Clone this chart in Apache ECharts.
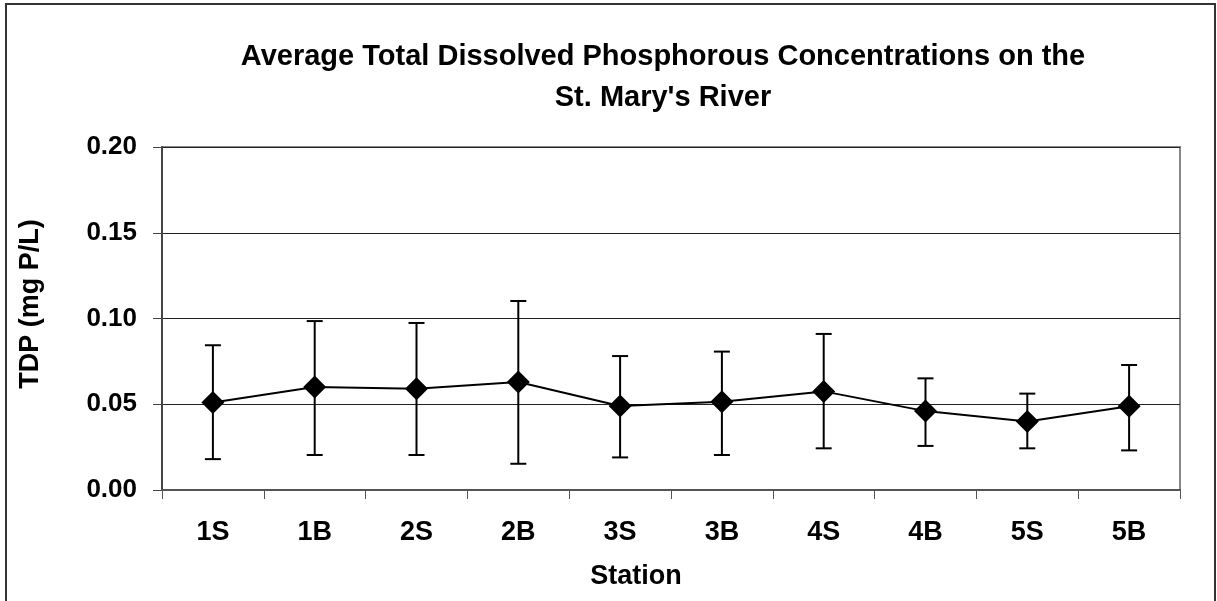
<!DOCTYPE html>
<html>
<head>
<meta charset="utf-8">
<title>TDP St. Mary's River</title>
<script src="https://cdn.jsdelivr.net/npm/echarts@6/dist/echarts.min.js"></script>
<style>
html, body { margin: 0; padding: 0; background: #fff; }
#main { width: 1217px; height: 601px; }
</style>
</head>
<body>
<div id="main"></div>
<script>
// stations along the river
var stations = ['1S', '1B', '2S', '2B', '3S', '3B', '4S', '4B', '5S', '5B'];
// mean TDP (mg P/L)
var tdpMean = [0.051, 0.060, 0.059, 0.063, 0.049, 0.0515, 0.0575, 0.046, 0.040, 0.0488];
// error bar ends
var tdpLow  = [0.018, 0.0204, 0.0204, 0.0153, 0.019, 0.0204, 0.0243, 0.0257, 0.0243, 0.0231];
var tdpHigh = [0.0844, 0.0985, 0.0974, 0.1102, 0.0781, 0.0807, 0.091, 0.0651, 0.0562, 0.0729];

var myChart = echarts.init(document.getElementById('main'));

var errData = stations.map(function (s, i) {
    return [i, tdpLow[i], tdpHigh[i]];
});

var font = 'Liberation Sans, Arial, sans-serif';

myChart.setOption({
    animation: false,
    title: {
        text: 'Average Total Dissolved Phosphorous Concentrations on the\nSt. Mary\'s River',
        left: 658,
        top: 31,
        textAlign: 'center',
        textStyle: {
            fontFamily: font,
            fontWeight: 'bold',
            fontSize: 29,
            lineHeight: 41,
            color: '#000'
        }
    },
    grid: {
        left: 162,
        right: 37,
        top: 147,
        bottom: 111,
        show: true,
        borderColor: '#888',
        borderWidth: 2
    },
    graphic: [
        {
            // outer chart border
            type: 'rect',
            shape: { x: 6, y: 4, width: 1209, height: 620 },
            style: { fill: null, stroke: '#333', lineWidth: 2 },
            silent: true,
            z: -1
        },
        {
            type: 'text',
            x: 31,
            y: 304,
            rotation: Math.PI / 2,
            style: {
                text: 'TDP (mg P/L)',
                fontFamily: font,
                fontWeight: 'bold',
                fontSize: 27,
                fill: '#000',
                textAlign: 'center',
                textVerticalAlign: 'middle'
            }
        },
        {
            type: 'text',
            x: 636,
            y: 577,
            style: {
                text: 'Station',
                fontFamily: font,
                fontWeight: 'bold',
                fontSize: 27,
                fill: '#000',
                textAlign: 'center',
                textVerticalAlign: 'middle'
            }
        }
    ],
    xAxis: {
        type: 'category',
        data: stations,
        boundaryGap: true,
        axisLine: { lineStyle: { color: '#555', width: 2 } },
        axisTick: { show: true, length: 9, lineStyle: { color: '#555', width: 1 } },
        axisLabel: {
            margin: 29,
            fontFamily: font,
            fontWeight: 'bold',
            fontSize: 27,
            color: '#000'
        },
        splitLine: { show: false }
    },
    yAxis: {
        type: 'value',
        min: 0,
        max: 0.2,
        interval: 0.05,
        axisLine: { show: true, lineStyle: { color: '#444', width: 2 } },
        axisTick: { show: true, length: 9, lineStyle: { color: '#444', width: 1 } },
        axisLabel: {
            margin: 25,
            fontFamily: font,
            fontWeight: 'bold',
            fontSize: 26,
            color: '#000',
            formatter: function (v) { return v.toFixed(2); }
        },
        splitLine: { lineStyle: { color: '#222', width: 1 } }
    },
    series: [
        {
            name: 'error',
            type: 'custom',
            data: errData,
            z: 1,
            renderItem: function (params, api) {
                var x = api.value(0);
                var lo = api.coord([x, api.value(1)]);
                var hi = api.coord([x, api.value(2)]);
                var half = 8;
                var st = { stroke: '#000', lineWidth: 2 };
                return {
                    type: 'group',
                    children: [
                        { type: 'line', shape: { x1: lo[0], y1: lo[1], x2: hi[0], y2: hi[1] }, style: st },
                        { type: 'line', shape: { x1: lo[0] - half, y1: lo[1], x2: lo[0] + half, y2: lo[1] }, style: st },
                        { type: 'line', shape: { x1: hi[0] - half, y1: hi[1], x2: hi[0] + half, y2: hi[1] }, style: st }
                    ]
                };
            }
        },
        {
            name: 'TDP',
            type: 'line',
            data: tdpMean,
            z: 3,
            symbol: 'diamond',
            symbolSize: [23, 23],
            lineStyle: { color: '#000', width: 2 },
            itemStyle: { color: '#000' }
        }
    ]
});
</script>
</body>
</html>
